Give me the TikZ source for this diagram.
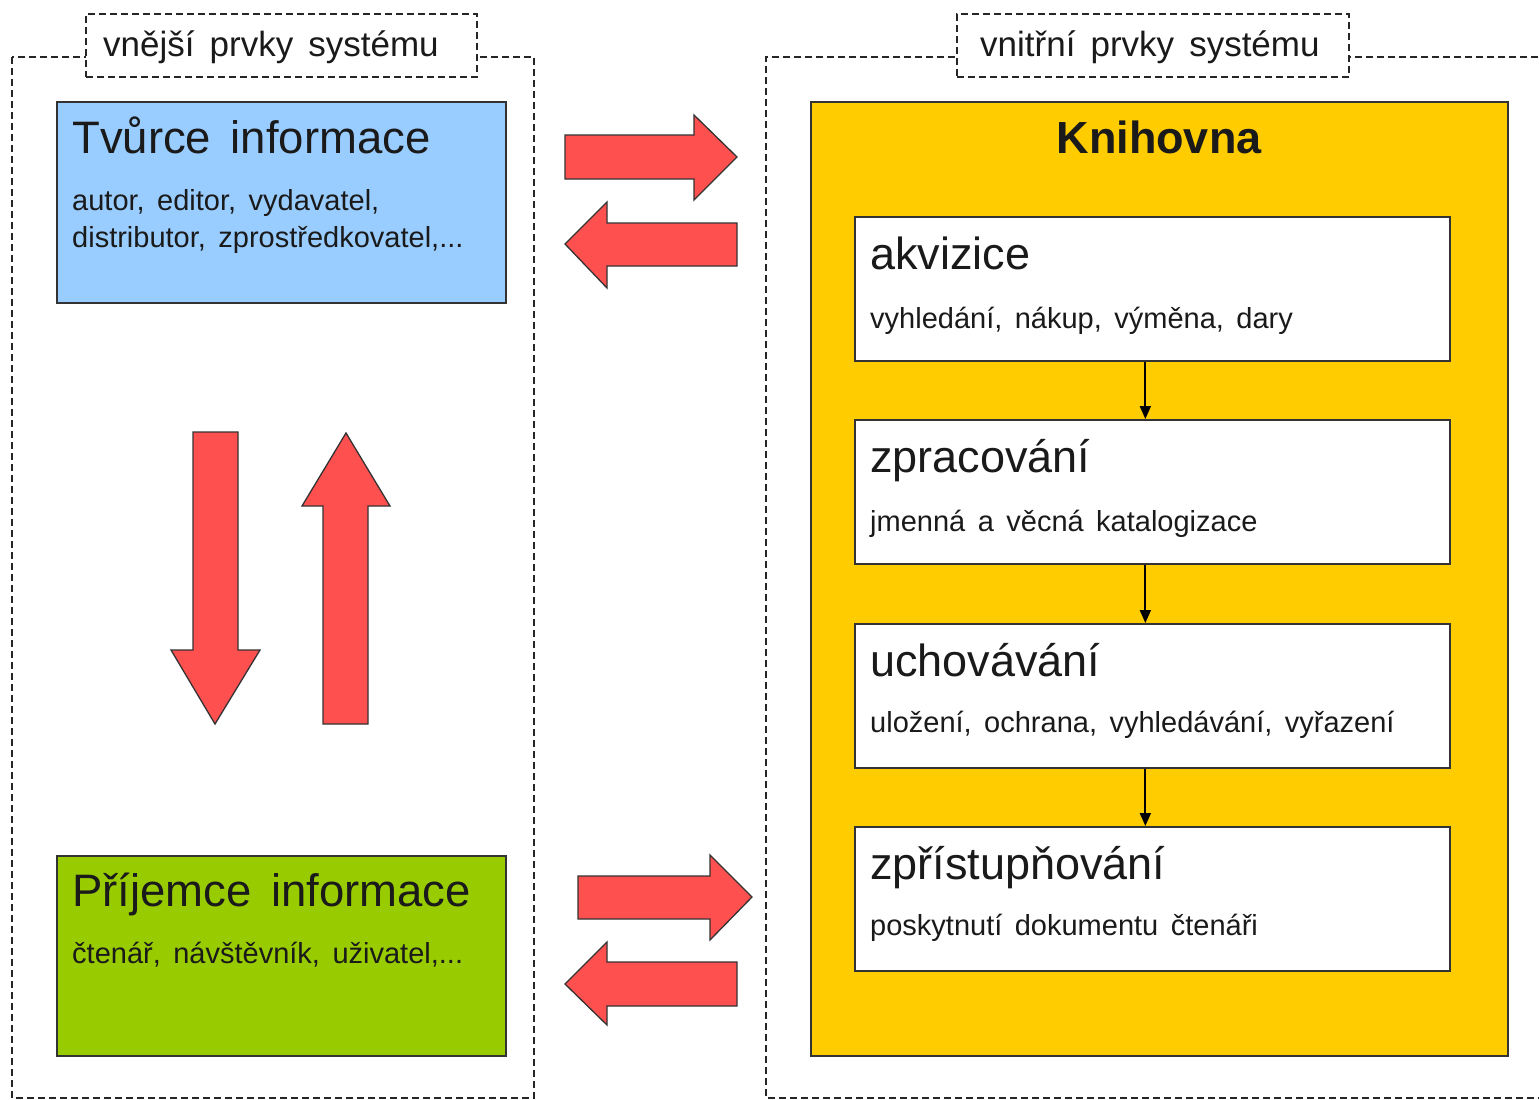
\documentclass[tikz,border=0pt]{standalone}
\usepackage{fontspec}
\setmainfont{Liberation Sans}[WordSpace=1.55]
\usetikzlibrary{arrows.meta}
\definecolor{blueb}{HTML}{99CCFF}
\definecolor{greenb}{HTML}{99CC00}
\definecolor{yellowb}{HTML}{FFCC00}
\definecolor{redarr}{HTML}{FF5050}
\definecolor{edgec}{HTML}{333333}
\definecolor{txt}{HTML}{1A1A1A}
\tikzset{
  dashbox/.style={draw=black!85, line width=1.7pt, dash pattern=on 7pt off 4pt},
  lblbox/.style={dashbox, fill=white, inner sep=0pt, anchor=north west},
  box/.style={draw=edgec, line width=1.7pt, inner sep=0pt, anchor=north west},
  stepbox/.style={box, fill=white, minimum width=595pt, minimum height=144pt},
  big/.style={font=\fontsize{45.5}{52}\selectfont, text=txt, anchor=base west, inner sep=0pt},
  mid/.style={font=\fontsize{45}{52}\selectfont, text=txt, anchor=base west, inner sep=0pt},
  small/.style={font=\fontsize{29}{37}\selectfont, text=txt, anchor=base west, inner sep=0pt, align=left},
  lbltxt/.style={font=\fontsize{35}{40}\selectfont, text=txt, anchor=base west, inner sep=0pt},
  blockarrow/.style={fill=redarr, draw=edgec, line width=1.3pt, line join=miter},
  conn/.style={draw=black, line width=1.8pt, -{Triangle[length=13pt,width=11pt]}}
}
\begin{document}
\begin{tikzpicture}[x=1pt,y=-1pt]
\useasboundingbox (0,0) rectangle (1539,1100);
% outer dashed regions
\draw[dashbox] (12,57) rectangle (534,1098);
\draw[dashbox] (1560,57) -- (766,57) -- (766,1098) -- (1560,1098);
% labels
\node[lblbox, minimum width=391pt, minimum height=63pt] (lblout) at (85,13) {};
\node[lbltxt] (lblouttxt) at (103,56) {vnější prvky systému};
\node[lblbox, minimum width=392pt, minimum height=63pt] (lblin) at (956,13) {};
\node[lbltxt] (lblintxt) at (980,56) {vnitřní prvky systému};
% left boxes
\node[box, fill=blueb, minimum width=449pt, minimum height=201pt] (tvurce) at (56,101) {};
\node[big] (tvurcet) at (72,153) {Tvůrce informace};
\node[small] (tvurces1) at (72,210) {autor, editor, vydavatel,};
\node[small] (tvurces2) at (72,247) {distributor, zprostředkovatel,...};
\node[box, fill=greenb, minimum width=449pt, minimum height=200pt] (prijemce) at (56,855) {};
\node[big] (prijemcet) at (72,906) {Příjemce informace};
\node[small] (prijemces) at (72,963) {čtenář, návštěvník, uživatel,...};
% library
\node[box, fill=yellowb, minimum width=697pt, minimum height=954pt] (knih) at (810,101) {};
\node[font=\fontsize{45}{52}\selectfont\bfseries, text=txt, anchor=base, inner sep=0pt] (knihtxt) at (1159,153) {Knihovna};
\node[stepbox] (akv) at (854,216) {};
\node[mid] (akvt) at (870,269) {akvizice};
\node[small] (akvs) at (870,328) {vyhledání, nákup, výměna, dary};
\node[stepbox] (zpr) at (854,419) {};
\node[mid] (zprt) at (870,472) {zpracování};
\node[small] (zprs) at (870,531) {jmenná a věcná katalogizace};
\node[stepbox] (uch) at (854,623) {};
\node[mid] (ucht) at (870,676) {uchovávání};
\node[small] (uchs) at (870,732) {uložení, ochrana, vyhledávání, vyřazení};
\node[stepbox] (zpp) at (854,826) {};
\node[mid] (zppt) at (870,879) {zpřístupňování};
\node[small] (zpps) at (870,935) {poskytnutí dokumentu čtenáři};
% connectors
\draw[conn] ([xshift=-7pt]akv.south) -- ([xshift=-7pt]zpr.north);
\draw[conn] ([xshift=-7pt]zpr.south) -- ([xshift=-7pt]uch.north);
\draw[conn] ([xshift=-7pt]uch.south) -- ([xshift=-7pt]zpp.north);
% block arrows top
\draw[blockarrow] (565,135) -- (694,135) -- (694,115) -- (737,157) -- (694,200) -- (694,179) -- (565,179) -- cycle;
\draw[blockarrow] (737,223) -- (607,223) -- (607,202) -- (565,244) -- (607,288) -- (607,266) -- (737,266) -- cycle;
% block arrows bottom
\draw[blockarrow] (578,876) -- (710,876) -- (710,855) -- (752,897) -- (710,940) -- (710,919) -- (578,919) -- cycle;
\draw[blockarrow] (737,962) -- (607,962) -- (607,942) -- (565,984) -- (607,1025) -- (607,1006) -- (737,1006) -- cycle;
% vertical arrows
\draw[blockarrow] (193,432) -- (238,432) -- (238,650) -- (260,650) -- (215,724) -- (171,650) -- (193,650) -- cycle;
\draw[blockarrow] (323,724) -- (323,506) -- (302,506) -- (346,433) -- (390,506) -- (368,506) -- (368,724) -- cycle;
\end{tikzpicture}
\end{document}
